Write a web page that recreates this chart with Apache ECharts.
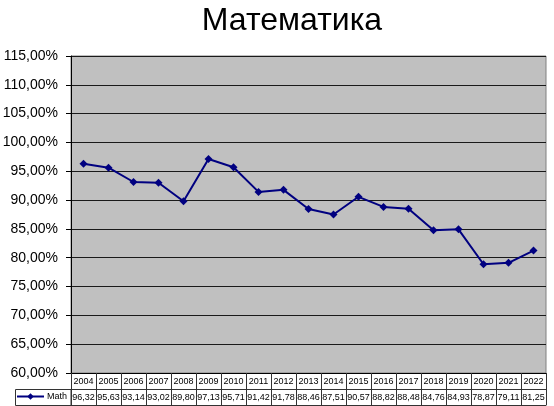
<!DOCTYPE html>
<html><head><meta charset="utf-8">
<script src="https://cdn.jsdelivr.net/npm/echarts@6/dist/echarts.min.js"></script>
<style>html,body{margin:0;padding:0;background:#fff}#c{width:554px;height:406px}</style>
</head><body><div id="c"></div>
<script>
const years = ['2004','2005','2006','2007','2008','2009','2010','2011','2012','2013','2014','2015','2016','2017','2018','2019','2020','2021','2022'];
const math = [96.32,95.63,93.14,93.02,89.80,97.13,95.71,91.42,91.78,88.46,87.51,90.57,88.82,88.48,84.76,84.93,78.87,79.11,81.25];
const seriesName = 'Math';
const titleText = 'Математика';
const fmt = v => v.toFixed(2).replace('.', ',');

const chart = echarts.init(document.getElementById('c'), null, {renderer: 'canvas'});
chart.setOption({
  animation: false,
  textStyle: {fontFamily: 'Liberation Sans, Arial, sans-serif'},
  title: {text: titleText, left: 287, textAlign: 'center', top: 0,
    textStyle: {fontSize: 32, fontWeight: 'normal', color: '#000', fontFamily: 'Liberation Sans'}},
  legend: {data: [seriesName], left: 16, top: 392, itemWidth: 27, itemHeight: 8, itemGap: 0,
    textStyle: {fontSize: 9, color: '#000', padding: [0, 0, 0, -2]}, padding: 0},
  grid: {left: 71, right: 8, top: 56, bottom: 33, show: true, backgroundColor: '#c0c0c0', borderColor: '#808080', borderWidth: 1,
    containLabel: false, outerBoundsMode: 'none'},
  xAxis: [
    {type: 'category', data: years, boundaryGap: true, position: 'bottom',
      axisLine: {lineStyle: {color: '#000', width: 1}},
      axisTick: {show: true, inside: false, length: 32, lineStyle: {color: '#333'}},
      axisLabel: {fontSize: 9, color: '#000', margin: 4, interval: 0}},
    {type: 'category', data: math.map(fmt), boundaryGap: true, position: 'bottom', offset: 16,
      axisLine: {lineStyle: {color: '#333', width: 1}},
      axisTick: {show: false},
      axisLabel: {fontSize: 9, color: '#000', margin: 4, interval: 0}},
    {type: 'category', data: years, boundaryGap: true, position: 'bottom', offset: 32,
      axisLine: {lineStyle: {color: '#333', width: 1}},
      axisTick: {show: false}, axisLabel: {show: false}}
  ],
  yAxis: {type: 'value', min: 60, max: 115, interval: 5,
    axisLine: {show: true, lineStyle: {color: '#000', width: 1}},
    axisTick: {show: true, length: 5, lineStyle: {color: '#000'}},
    axisLabel: {fontSize: 14, color: '#000', margin: 13, formatter: v => fmt(v) + '%'},
    splitLine: {show: true, lineStyle: {color: '#1a1a1a', width: 1}}},
  graphic: [
    {type: 'rect', shape: {x: 15.5, y: 389.5, width: 55.5, height: 16}, style: {fill: 'none', stroke: '#333', lineWidth: 1}}
  ],
  series: [{name: seriesName, type: 'line', data: math, xAxisIndex: 0,
    symbol: 'diamond', symbolSize: 8,
    lineStyle: {color: '#000080', width: 2}, itemStyle: {color: '#000080'}}]
});
</script></body></html>
